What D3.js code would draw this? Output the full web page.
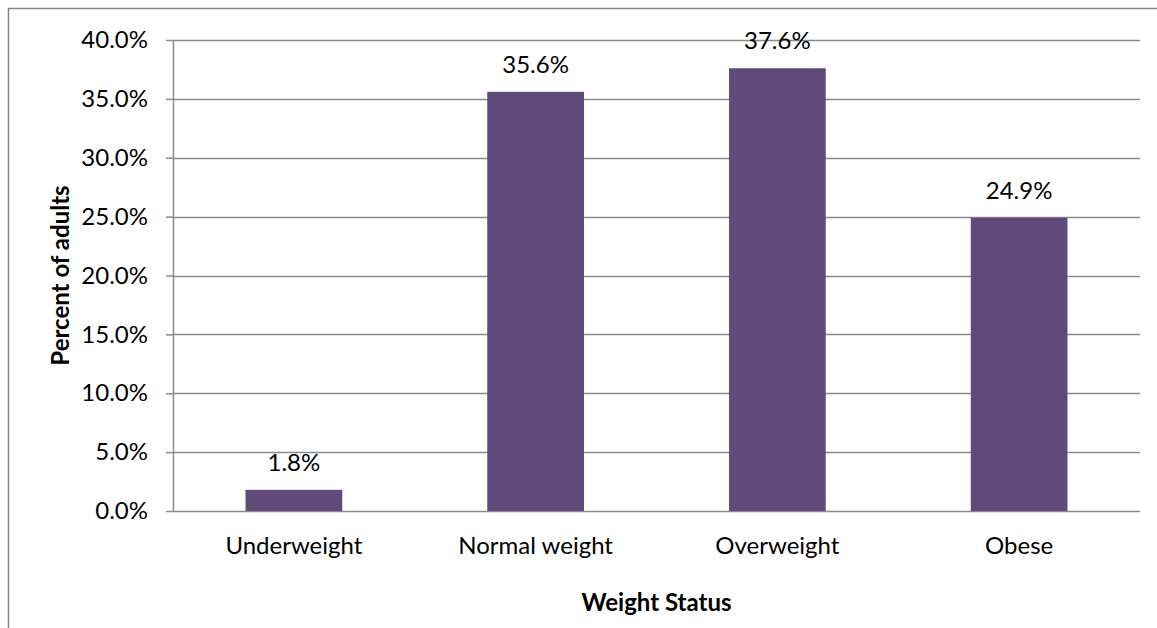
<!DOCTYPE html>
<html>
<head>
<meta charset="utf-8">
<script src="https://cdn.jsdelivr.net/npm/d3@7"></script>
<style>
  html, body { margin: 0; padding: 0; background: #fff; overflow: hidden; }
  svg { display: block; font-family: Lato, "Open Sans", sans-serif; }
</style>
</head>
<body>
<svg id="chart" width="1157" height="628"></svg>
<script>
// Weight status of adults
const categories = ["Underweight", "Normal weight", "Overweight", "Obese"];
const percents = [1.8, 35.6, 37.6, 24.9];
const tickValues = [0, 5, 10, 15, 20, 25, 30, 35, 40];
const xTitle = "Weight Status";
const yTitle = "Percent of adults";

const svg = d3.select("#chart");
const W = 1157, H = 628;
const margin = { left: 173, right: 17, top: 40, bottom: 117 };
const plotW = W - margin.left - margin.right;
const plotH = H - margin.top - margin.bottom;

const barColor = "#604a7b";
const gridColor = "#8a8a8a";
const fontSize = 24;
const fontFamily = "Lato, 'Open Sans', sans-serif";

// Chart frame (only its left and top edges fall inside the canvas)
svg.append("rect")
  .attr("x", 8.5).attr("y", 8.5)
  .attr("width", W + 20).attr("height", H + 20)
  .attr("fill", "none").attr("stroke", "#868686").attr("stroke-width", 1.5);

const g = svg.append("g").attr("transform", `translate(${margin.left},${margin.top})`);

const x = d3.scaleBand().domain(categories).range([0, plotW]).paddingInner(0.6).paddingOuter(0.3);
const y = d3.scaleLinear().domain([0, 40]).range([plotH, 0]);

// Horizontal gridlines
g.append("g")
  .selectAll("line")
  .data(tickValues)
  .join("line")
  .attr("x1", 0).attr("x2", plotW)
  .attr("y1", d => Math.round(y(d)) + 0.5).attr("y2", d => Math.round(y(d)) + 0.5)
  .attr("stroke", gridColor).attr("stroke-width", 1.5);

// Y axis
const yAxis = g.append("g")
  .call(d3.axisLeft(y).tickValues(tickValues).tickSize(7).tickPadding(18)
    .tickFormat(d => d.toFixed(1) + "%"));
yAxis.select(".domain").attr("stroke", gridColor).attr("stroke-width", 1.5)
  .attr("d", `M0.5,${plotH}V0`);
yAxis.selectAll(".tick line").attr("stroke", gridColor).attr("stroke-width", 1.5);
yAxis.selectAll(".tick text").attr("font-size", fontSize).attr("fill", "#000")
  .attr("font-family", fontFamily);

// Bars
g.append("g")
  .selectAll("rect")
  .data(percents)
  .join("rect")
  .attr("x", (d, i) => x(categories[i]))
  .attr("width", x.bandwidth())
  .attr("y", d => y(d))
  .attr("height", d => plotH - y(d))
  .attr("fill", barColor);

// Value labels
g.append("g")
  .selectAll("text")
  .data(percents)
  .join("text")
  .attr("x", (d, i) => x(categories[i]) + x.bandwidth() / 2)
  .attr("y", d => y(d) - 19)
  .attr("text-anchor", "middle")
  .attr("font-size", fontSize)
  .attr("fill", "#000")
  .text(d => d.toFixed(1) + "%");

// X axis category labels
const xAxis = g.append("g")
  .attr("transform", `translate(0,${plotH})`)
  .call(d3.axisBottom(x).tickSize(0).tickPadding(26));
xAxis.select(".domain").remove();
xAxis.selectAll(".tick text").attr("font-size", fontSize).attr("fill", "#000")
  .attr("font-family", fontFamily);

// Axis titles
svg.append("text")
  .attr("x", margin.left + plotW / 2)
  .attr("y", 611)
  .attr("text-anchor", "middle")
  .attr("font-size", fontSize)
  .attr("font-weight", "bold")
  .text(xTitle);

svg.append("text")
  .attr("transform", `translate(69,${margin.top + plotH / 2}) rotate(-90)`)
  .attr("text-anchor", "middle")
  .attr("font-size", fontSize)
  .attr("font-weight", "bold")
  .text(yTitle);
</script>
</body>
</html>
